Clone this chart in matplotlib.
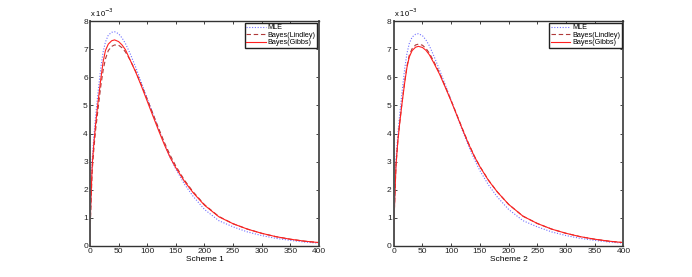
import matplotlib
matplotlib.use("Agg")
import matplotlib.pyplot as plt

plt.rcParams['font.family'] = ['Liberation Sans', 'DejaVu Sans']

# x grid (shared by all series)
x = [0, 1, 2.5, 4, 7, 10, 14, 19, 23, 27, 32, 38, 43, 50, 56, 62, 70, 80, 90, 100,
     110, 120, 130, 140, 150, 165, 180, 200, 225, 250, 275, 300, 325, 350, 375, 400]

# Scheme 1 (values in units of 1e-3)
mle_s1 = [0, 1.3, 2.3, 3.1, 3.95, 4.65, 5.45, 6.35, 6.9, 7.25, 7.5, 7.6, 7.62, 7.55, 7.4, 7.2,
          6.85, 6.35, 5.8, 5.25, 4.7, 4.15, 3.62, 3.15, 2.73, 2.2, 1.77, 1.3, 0.9, 0.68,
          0.5, 0.37, 0.27, 0.2, 0.14, 0.1]
lindley_s1 = [0, 1.0, 1.9, 2.7, 3.5, 4.15, 4.85, 5.7, 6.25, 6.65, 6.95, 7.1, 7.15, 7.14, 7.05,
              6.9, 6.62, 6.2, 5.72, 5.22, 4.7, 4.18, 3.68, 3.23, 2.84, 2.34, 1.93, 1.47, 1.05,
              0.79, 0.6, 0.45, 0.33, 0.24, 0.17, 0.12]
gibbs_s1 = [0, 1.2, 2.1, 2.9, 3.7, 4.35, 5.1, 5.95, 6.55, 6.95, 7.18, 7.3, 7.33, 7.27, 7.15,
            6.98, 6.62, 6.18, 5.68, 5.15, 4.62, 4.1, 3.6, 3.15, 2.78, 2.3, 1.9, 1.45, 1.04,
            0.79, 0.6, 0.45, 0.33, 0.24, 0.17, 0.12]

# Scheme 2 (values in units of 1e-3)
mle_s2 = [0, 1.3, 2.3, 3.1, 3.95, 4.6, 5.4, 6.3, 6.85, 7.2, 7.43, 7.53, 7.55, 7.48, 7.33, 7.12,
          6.75, 6.25, 5.72, 5.17, 4.62, 4.08, 3.57, 3.1, 2.68, 2.17, 1.75, 1.3, 0.9, 0.68,
          0.5, 0.37, 0.27, 0.2, 0.14, 0.1]
lindley_s2 = [0, 1.2, 2.1, 2.9, 3.7, 4.32, 5.03, 5.85, 6.4, 6.78, 7.02, 7.15, 7.18, 7.14, 7.03,
              6.86, 6.55, 6.14, 5.66, 5.17, 4.66, 4.15, 3.66, 3.21, 2.83, 2.34, 1.93, 1.48,
              1.06, 0.8, 0.6, 0.45, 0.33, 0.24, 0.17, 0.12]
gibbs_s2 = [0, 1.2, 2.1, 2.9, 3.7, 4.3, 5.0, 5.8, 6.35, 6.72, 6.95, 7.07, 7.1, 7.06, 6.96,
            6.8, 6.5, 6.1, 5.63, 5.15, 4.64, 4.13, 3.64, 3.2, 2.82, 2.33, 1.93, 1.48, 1.06,
            0.8, 0.6, 0.45, 0.33, 0.24, 0.17, 0.12]

labels = ['MLE', 'Bayes(Lindley)', 'Bayes(Gibbs)']
xlabels = ['Scheme 1', 'Scheme 2']
xticks = [0, 50, 100, 150, 200, 250, 300, 350, 400]
yticks = [0, 1, 2, 3, 4, 5, 6, 7, 8]

fig = plt.figure(figsize=(6.92, 2.77), dpi=100)
fig.patch.set_facecolor('white')

positions = [[0.130, 0.112, 0.331, 0.812], [0.569, 0.112, 0.332, 0.812]]
series = [(mle_s1, lindley_s1, gibbs_s1), (mle_s2, lindley_s2, gibbs_s2)]

for pos, (m, l, g), xl in zip(positions, series, xlabels):
    ax = fig.add_axes(pos)
    ax.plot(x, m, linestyle=(0, (1, 1.5)), color='#6f6fff', lw=0.8, label=labels[0])
    ax.plot(x, l, linestyle=(0, (4, 2.5)), color='#b03a3a', lw=0.8, label=labels[1])
    ax.plot(x, g, linestyle='-', color='#ff2020', lw=0.8, label=labels[2])
    ax.set_xlim(0, 400)
    ax.set_ylim(0, 8)
    ax.set_xticks(xticks)
    ax.set_yticks(yticks)
    ax.set_xticklabels([str(t) for t in xticks])
    ax.set_yticklabels([str(t) for t in yticks])
    ax.tick_params(direction='in', length=2.5, width=0.6, labelsize=6, pad=1.5,
                   top=True, right=True, colors='#222222')
    for side in ['left', 'right']:
        ax.spines[side].set_linewidth(1.4)
        ax.spines[side].set_color('#555555')
    for side in ['top', 'bottom']:
        ax.spines[side].set_linewidth(1.0)
        ax.spines[side].set_color('#333333')
    ax.set_xlabel(xl, fontsize=6, labelpad=0.5)
    ax.text(0.0, 1.008, r'x 10$^{-3}$', transform=ax.transAxes, fontsize=5.5,
            ha='left', va='bottom')
    leg = ax.legend(loc='upper right', fontsize=5.2, fancybox=False, framealpha=1,
                    edgecolor='#222222', borderaxespad=0.25, handlelength=2.7,
                    handletextpad=0.3, borderpad=0.2, labelspacing=0.05)
    leg.get_frame().set_linewidth(1.0)

fig.savefig('out.png', dpi=100, facecolor='white')
